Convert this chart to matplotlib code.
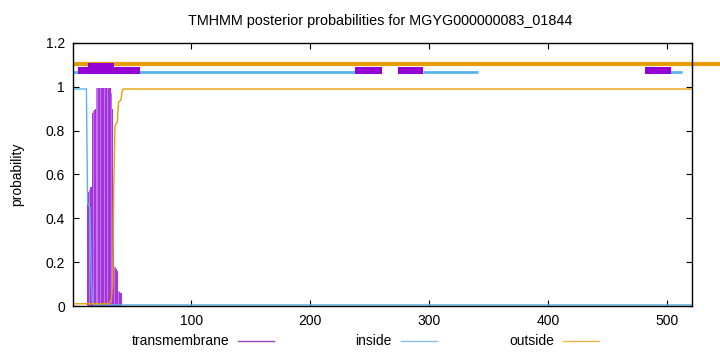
import matplotlib
matplotlib.use("Agg")
import matplotlib.pyplot as plt
from matplotlib.lines import Line2D
from matplotlib.patches import Rectangle
from matplotlib.ticker import FuncFormatter, MultipleLocator

TITLE = "TMHMM posterior probabilities for MGYG000000083_01844"
SEQ_LEN = 520

# posterior probabilities, residues 1..45, flat afterwards
inside_head = [0.99] * 12 + [0.47, 0.46, 0.45, 0.14, 0.02] + [0.005] * 28
tm_head = ([0.0] * 12
           + [0.52, 0.52, 0.53, 0.545, 0.88, 0.89, 0.895, 0.9]
           + [0.995] * 12
           + [0.97, 0.9, 0.45, 0.18, 0.17, 0.16, 0.07, 0.065, 0.06]
           + [0.0] * 4)
outside_head = ([0.01] * 31
                + [0.02, 0.03, 0.1, 0.55, 0.82, 0.83, 0.84, 0.93, 0.935, 0.94, 0.98]
                + [0.99] * 3)

inside = inside_head + [0.005] * (SEQ_LEN - len(inside_head))
tm = tm_head + [0.0] * (SEQ_LEN - len(tm_head))
outside = outside_head + [0.99] * (SEQ_LEN - len(outside_head))
residues = list(range(1, SEQ_LEN + 1))

# topology bars drawn above the curves (start, end residue)
outside_segments = [(1, 550)]
inside_segments = [(1, 238), (295, 341), (502, 512)]
tm_segments = [(5, 57), (238, 260), (274, 295), (481, 503)]
tm_core_segments = [(13, 35)]

PURPLE = "#9400d3"
TM_FILL = ["#a436dc", "#a436dc", "#c274ea"]
BLUE = "#56b4e9"
ORANGE = "#e69f00"

plt.rcParams["font.family"] = ["Liberation Sans", "DejaVu Sans"]
plt.rcParams["font.size"] = 10

W, H = 720, 352
fig = plt.figure(figsize=(W / 100, H / 100), dpi=100)
ax = fig.add_axes([73.3 / W, 1 - 306 / H, (692.3 - 73.3) / W, (306 - 43) / H])

ax.bar(residues, tm, width=1.15, linewidth=0,
       color=[TM_FILL[i % 3] for i in range(SEQ_LEN)], zorder=2)
ax.plot(residues, inside, color=BLUE, lw=1.0, zorder=3)
ax.plot(residues, outside, color=ORANGE, lw=1.0, zorder=3)

for a, b in outside_segments:
    ax.plot([a, b], [1.105, 1.105], color=ORANGE, lw=3.0,
            solid_capstyle="butt", clip_on=False, zorder=4)
for a, b in inside_segments:
    ax.plot([a, b], [1.068, 1.068], color=BLUE, lw=2.0,
            solid_capstyle="butt", zorder=4)
for a, b in tm_segments:
    ax.add_patch(Rectangle((a, 1.058), b - a, 0.034, facecolor=PURPLE,
                           edgecolor="none", zorder=5))
for a, b in tm_core_segments:
    ax.add_patch(Rectangle((a, 1.058), b - a, 0.052, facecolor=PURPLE,
                           edgecolor="none", zorder=5))

ax.set_xlim(1, SEQ_LEN + 1)
ax.set_ylim(0, 1.2)
ax.xaxis.set_major_locator(MultipleLocator(100))
ax.yaxis.set_major_locator(MultipleLocator(0.2))
ax.yaxis.set_major_formatter(FuncFormatter(lambda v, p: f"{v:g}"))
ax.set_xticks([100, 200, 300, 400, 500])
ax.tick_params(direction="in", length=4, width=0.8, top=True, right=True,
               labelsize=10, pad=6)
for s in ax.spines.values():
    s.set_linewidth(1.0)
    s.set_zorder(6)

fig.text(380 / W, 1 - 21 / H, TITLE, ha="center", va="center", fontsize=10.4)
fig.text(17 / W, 1 - 174.5 / H, "probability", rotation=90,
         ha="center", va="center", fontsize=10)

# key below the plot, gnuplot style: label then line sample
legend = [("transmembrane", "#a040d0", 229, 238),
          ("inside", "#80c4ea", 392, 401),
          ("outside", "#f0b440", 554, 563)]
ky = 1 - 341 / H
for label, col, tx, lx in legend:
    fig.text(tx / W, ky, label, ha="right", va="center", fontsize=10)
    fig.add_artist(Line2D([lx / W, (lx + 36) / W], [ky, ky], color=col,
                          lw=1.0, transform=fig.transFigure))

fig.savefig("out.png", dpi=100, facecolor="white")
